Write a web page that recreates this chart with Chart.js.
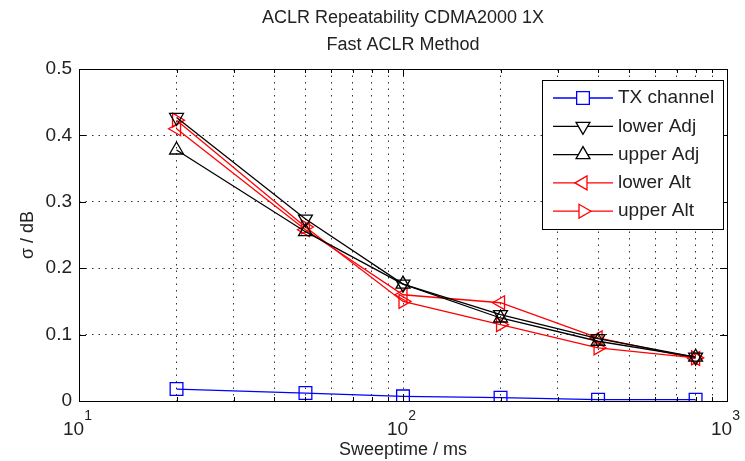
<!DOCTYPE html>
<html lang="en">
<head>
    <meta charset="UTF-8">
    <title>ACLR Repeatability CDMA2000 1X</title>
    <script src="https://cdn.jsdelivr.net/npm/chart.js"></script>
    <style>
        body { margin: 0; background: #fff; }
        .chart-box { width: 745px; height: 461px; }
    </style>
</head>
<body>
    <div class="chart-box">
        <canvas id="aclrChart"></canvas>
    </div>

    <script>
        // sweeptime values (ms) and sigma per channel (dB)
        const sweepTimes = [20, 50, 100, 200, 400, 800];
        const txChannel = [0.018, 0.012, 0.007, 0.005, 0.002, 0.002];
        const lowerAdj = [0.427, 0.274, 0.176, 0.130, 0.094, 0.066];
        const upperAdj = [0.378, 0.255, 0.176, 0.125, 0.090, 0.066];
        const lowerAlt = [0.410, 0.258, 0.160, 0.148, 0.095, 0.064];
        const upperAlt = [0.423, 0.262, 0.150, 0.115, 0.080, 0.065];
        const seriesNames = ['TX channel', 'lower Adj', 'upper Adj', 'lower Alt', 'upper Alt'];
        const yTicks = [0, 0.1, 0.2, 0.3, 0.4, 0.5];
        const xMajor = [10, 100, 1000];

        const FONT = '"Liberation Sans", Arial, sans-serif';

        function pts(vals) {
            return sweepTimes.map((t, i) => ({ x: t, y: vals[i] }));
        }

        function makeSet(label, vals, color, style, rot, r) {
            return {
                label: label,
                data: pts(vals),
                borderColor: color,
                backgroundColor: 'rgba(0,0,0,0)',
                borderWidth: 1.3,
                pointStyle: style,
                rotation: rot,
                pointRadius: r,
                pointBorderWidth: 1.3,
                pointBorderColor: color,
                pointBackgroundColor: 'rgba(0,0,0,0)',
                fill: false,
                tension: 0
            };
        }

        // all log grid positions 10..1000
        const xGrid = [];
        for (let d = 10; d < 1000; d *= 10) {
            for (let k = 1; k < 10; k++) xGrid.push(k * d);
        }
        xGrid.push(1000);

        function drawMarker(ctx, style, rot, r, x, y, color) {
            ctx.save();
            ctx.strokeStyle = color;
            ctx.fillStyle = '#fff';
            ctx.lineWidth = 1.3;
            if (Chart.helpers && Chart.helpers.drawPoint) {
                Chart.helpers.drawPoint(ctx, { pointStyle: style, rotation: rot, radius: r, borderWidth: 1.3 }, x, y);
            } else {
                ctx.beginPath();
                if (style === 'rect') {
                    const s = r * Math.SQRT1_2;
                    ctx.rect(x - s, y - s, 2 * s, 2 * s);
                } else {
                    let a = rot * Math.PI / 180;
                    ctx.moveTo(x + Math.sin(a) * r, y - Math.cos(a) * r);
                    for (let k = 0; k < 2; k++) {
                        a += 2 * Math.PI / 3;
                        ctx.lineTo(x + Math.sin(a) * r, y - Math.cos(a) * r);
                    }
                    ctx.closePath();
                }
                ctx.fill();
                ctx.stroke();
            }
            ctx.restore();
        }

        // matlab-like frame, ticks, labels and legend
        const frame = {
            id: 'frame',
            afterDraw(chart) {
                const ctx = chart.ctx;
                const a = chart.chartArea;
                const xs = chart.scales.x, ys = chart.scales.y;
                ctx.save();
                ctx.strokeStyle = '#000';
                ctx.lineWidth = 1;
                ctx.strokeRect(a.left + 0.5, a.top + 0.5, a.right - a.left, a.bottom - a.top);

                ctx.beginPath();
                xGrid.forEach(v => {
                    const px = Math.round(xs.getPixelForValue(v)) + 0.5;
                    const len = xMajor.includes(v) ? 7 : 4;
                    ctx.moveTo(px, a.bottom); ctx.lineTo(px, a.bottom - len);
                    ctx.moveTo(px, a.top); ctx.lineTo(px, a.top + len);
                });
                yTicks.forEach(v => {
                    const py = Math.round(ys.getPixelForValue(v)) + 0.5;
                    ctx.moveTo(a.left, py); ctx.lineTo(a.left + 7, py);
                    ctx.moveTo(a.right, py); ctx.lineTo(a.right - 7, py);
                });
                ctx.stroke();

                ctx.fillStyle = '#222';
                // x tick labels 10^n
                xMajor.forEach((v, i) => {
                    const px = xs.getPixelForValue(v);
                    ctx.font = '19px ' + FONT;
                    ctx.textAlign = 'left';
                    ctx.textBaseline = 'alphabetic';
                    const w = ctx.measureText('10').width;
                    ctx.fillText('10', px - 16, 435);
                    ctx.font = '14px ' + FONT;
                    ctx.fillText(String(i + 1), px - 16 + w, 420);
                });

                ctx.font = '18px ' + FONT;
                ctx.textAlign = 'center';
                ctx.textBaseline = 'middle';
                const cx = (a.left + a.right) / 2;
                ctx.fillText('ACLR Repeatability CDMA2000 1X', cx, 18);
                ctx.fillText('Fast ACLR Method', cx, 45);
                ctx.fillText('Sweeptime / ms', cx, 450);

                ctx.save();
                ctx.translate(28, (a.top + a.bottom) / 2);
                ctx.rotate(-Math.PI / 2);
                ctx.fillText('\u03c3 / dB', 0, 0);
                ctx.restore();

                // legend
                const lx = 542, ly = 80, lw = 181, lh = 149;
                ctx.fillStyle = '#fff';
                ctx.fillRect(lx, ly, lw, lh);
                ctx.strokeStyle = '#000';
                ctx.strokeRect(lx + 0.5, ly + 0.5, lw, lh);
                chart.data.datasets.forEach((ds, i) => {
                    const y = 98 + i * 28.3;
                    ctx.strokeStyle = ds.borderColor;
                    ctx.lineWidth = 1.3;
                    ctx.beginPath();
                    ctx.moveTo(553, y); ctx.lineTo(613, y);
                    ctx.stroke();
                    drawMarker(ctx, ds.pointStyle, ds.rotation, ds.pointRadius, 583, y, ds.borderColor);
                    ctx.fillStyle = '#222';
                    ctx.font = '19px ' + FONT;
                    ctx.textAlign = 'left';
                    ctx.textBaseline = 'middle';
                    ctx.fillText(ds.label, 618, y);
                });
                ctx.restore();
            }
        };

        const ctx = document.getElementById('aclrChart').getContext('2d');
        const aclrChart = new Chart(ctx, {
            type: 'line',
            data: {
                datasets: [
                    makeSet(seriesNames[0], txChannel, '#0000ff', 'rect', 0, 9),
                    makeSet(seriesNames[1], lowerAdj, '#000000', 'triangle', 180, 8),
                    makeSet(seriesNames[2], upperAdj, '#000000', 'triangle', 0, 8),
                    makeSet(seriesNames[3], lowerAlt, '#ff0000', 'triangle', 270, 8),
                    makeSet(seriesNames[4], upperAlt, '#ff0000', 'triangle', 90, 8)
                ]
            },
            options: {
                responsive: true,
                maintainAspectRatio: false,
                animation: false,
                devicePixelRatio: 1,
                layout: { padding: { left: 0, right: 18, top: 69, bottom: 60 } },
                plugins: {
                    legend: { display: false },
                    title: { display: false },
                    tooltip: { enabled: false }
                },
                scales: {
                    x: {
                        type: 'logarithmic',
                        min: 10,
                        max: 1000,
                        afterBuildTicks: (scale) => { scale.ticks = xGrid.map(v => ({ value: v })); },
                        ticks: { display: false },
                        grid: { color: '#333', lineWidth: 1, drawTicks: false },
                        border: { display: false, dash: [1.5, 5] }
                    },
                    y: {
                        min: 0,
                        max: 0.5,
                        afterBuildTicks: (scale) => { scale.ticks = yTicks.map(v => ({ value: v })); },
                        afterFit: (scale) => { scale.width = 79; },
                        ticks: {
                            padding: 7,
                            color: '#222',
                            font: { family: FONT, size: 19 },
                            callback: (v) => String(v)
                        },
                        grid: { color: '#333', lineWidth: 1, drawTicks: false },
                        border: { display: false, dash: [1.5, 5] }
                    }
                }
            },
            plugins: [frame]
        });
    </script>
</body>
</html>
